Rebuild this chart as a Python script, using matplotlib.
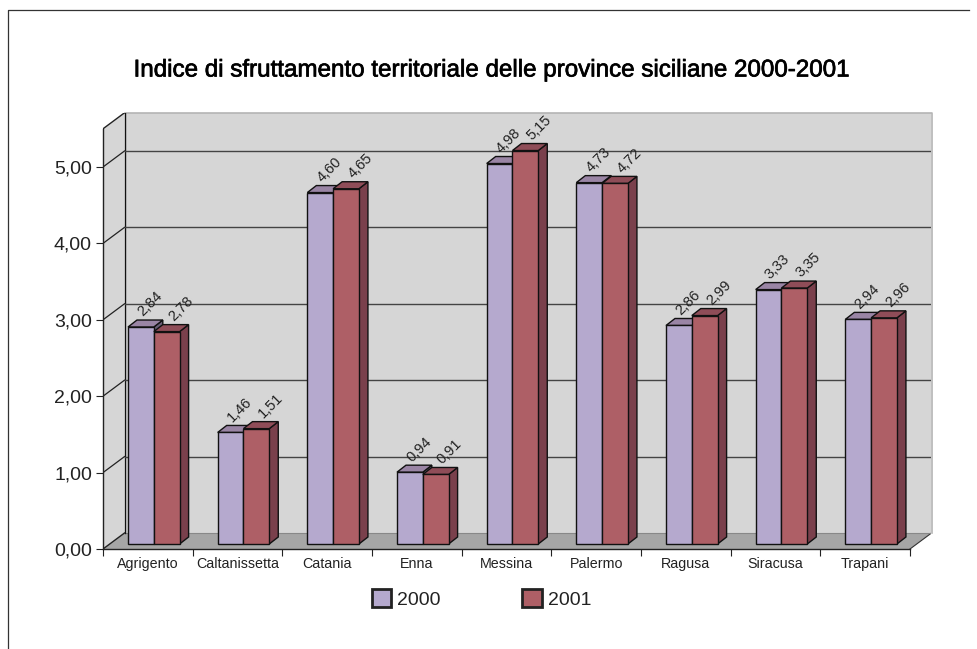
import matplotlib
matplotlib.use('Agg')
import matplotlib.pyplot as plt
import matplotlib.patheffects as pe
from matplotlib.patches import Polygon, Rectangle

plt.rcParams['font.family'] = ['Liberation Sans', 'DejaVu Sans']

categories = ['Agrigento', 'Caltanissetta', 'Catania', 'Enna', 'Messina',
              'Palermo', 'Ragusa', 'Siracusa', 'Trapani']
values_2000 = [2.84, 1.46, 4.60, 0.94, 4.98, 4.73, 2.86, 3.33, 2.94]
values_2001 = [2.78, 1.51, 4.65, 0.91, 5.15, 4.72, 2.99, 3.35, 2.96]
y_ticks = [0, 1, 2, 3, 4, 5]

W, H = 977, 649
fig = plt.figure(figsize=(W / 100, H / 100), dpi=100)

# axes box runs from the front-left floor corner to the back-right top corner
ax = fig.add_axes([103 / W, 1 - 549 / H, (931 - 103) / W, (549 - 113) / H])
px_x = (910 - 103) / 9      # pixels per category
px_y = 76.4                 # pixels per unit
ax.set_xlim(0, 828 / px_x)
ax.set_ylim(0, 436 / px_y)
dx = 21.5 / px_x            # wall depth
dy = 16 / px_y
top = 5.5
ax.patch.set_visible(False)
for s in ax.spines.values():
    s.set_visible(False)

# walls and floor
ax.add_patch(Polygon([(0, 0), (dx, dy), (dx, top + dy), (0, top)], fc='#d6d6d6', ec='none', zorder=1))
ax.add_patch(Polygon([(dx, dy), (9 + dx, dy), (9 + dx, top + dy), (dx, top + dy)], fc='#d6d6d6', ec='none', zorder=1))
ax.add_patch(Polygon([(0, 0), (9, 0), (9 + dx, dy), (dx, dy)], fc='#a6a6a6', ec='none', zorder=1))
ax.plot([dx, 9 + dx, 9 + dx], [top + dy, top + dy, dy], color='#b4b4b4', lw=1.2, zorder=2, clip_on=False)
ax.plot([9, 9 + dx], [0, dy], color='#333333', lw=0.8, zorder=2)
ax.plot([dx, 9 + dx], [dy, dy], color='#888888', lw=0.8, zorder=2)
ax.plot([dx, dx], [dy, top + dy], color='#111111', lw=1.0, zorder=2)
ax.plot([0, dx], [top, top + dy], color='#222222', lw=1.0, zorder=2)
ax.plot([0, dx], [0, dy], color='#222222', lw=1.0, zorder=2)

# gridlines
for t in y_ticks[1:]:
    ax.plot([0, dx], [t, t + dy], color='#222222', lw=0.9, zorder=2)
    ax.plot([dx, 9 + dx], [t + dy, t + dy], color='#444444', lw=1.0, zorder=2)

# bars
bar_w = 25.8 / px_x
bar_start = 25 / px_x
base = 5 / px_y
bdx = 9 / px_x
bdy = 7 / px_y
series = [(values_2000, '#b5a9ce', '#9a85a5', '#6a5f78', 6.5),
          (values_2001, '#ae5f66', '#8f4d58', '#7a404c', 10)]
for j, (vals, front, roof, side, off) in enumerate(series):
    for i, v in enumerate(vals):
        x0 = i + bar_start + j * bar_w
        x1 = x0 + bar_w
        y0 = base
        y1 = base + v
        z = 3 + j + i * 3
        ax.add_patch(Polygon([(x1, y0), (x1 + bdx, y0 + bdy), (x1 + bdx, y1 + bdy), (x1, y1)],
                             fc=side, ec='#111111', lw=1.0, zorder=z))
        ax.add_patch(Polygon([(x0, y1), (x1, y1), (x1 + bdx, y1 + bdy), (x0 + bdx, y1 + bdy)],
                             fc=roof, ec='#111111', lw=1.0, zorder=z))
        ax.add_patch(Rectangle((x0, y0), bar_w, v, fc=front, ec='#111111', lw=1.0, zorder=z + 0.1))
        ax.annotate(f'{v:.2f}'.replace('.', ','), ((x0 + x1) / 2, y1), xytext=(off, 16.5),
                    textcoords='offset points', rotation=45, fontsize=10.5, color='#222222',
                    ha='center', va='center', rotation_mode='anchor', zorder=100)

# front left axis line and ticks
ax.plot([0, 0], [0, top], color='#222222', lw=1.0, zorder=2, clip_on=False)
ax.plot([0, 9], [0, 0], color='#222222', lw=1.0, zorder=2, clip_on=False)
ax.set_yticks(y_ticks)
ax.set_yticklabels([f'{t:.2f}'.replace('.', ',') for t in y_ticks], fontsize=14, color='#222222')
ax.tick_params(axis='y', length=5, width=0.8, color='#222222', pad=3)
ax.set_xticks(range(10))
ax.set_xticklabels([])
ax.tick_params(axis='x', which='major', length=5, width=0.8, color='#222222')
ax.set_xticks([i + 0.5 for i in range(9)], minor=True)
ax.set_xticklabels(categories, minor=True, fontsize=10.3, color='#222222')
ax.tick_params(axis='x', which='minor', length=0, pad=6)

fig.text(491 / W, 1 - 70.5 / H, 'Indice di sfruttamento territoriale delle province siciliane 2000-2001',
         fontsize=17.4, color='black', ha='center', va='center',
         path_effects=[pe.withStroke(linewidth=0.5, foreground='black')])

# legend
handles = [Rectangle((0, 0), 1, 1, fc=s[1], ec='#222222', lw=2.0) for s in series]
fig.legend(handles, ['2000', '2001'], ncol=2, loc='center', bbox_to_anchor=(481.5 / W, 1 - 599 / H),
           frameon=False, fontsize=14, labelcolor='#222222', handlelength=1.0, handleheight=1.0,
           handletextpad=0.3, columnspacing=4.2)

# outer frame
fig.add_artist(plt.Line2D([8 / W, 8 / W, 969 / W], [0, 1 - 10 / H, 1 - 10 / H], color='#333333', lw=0.9))

fig.savefig('out.png', dpi=100)
